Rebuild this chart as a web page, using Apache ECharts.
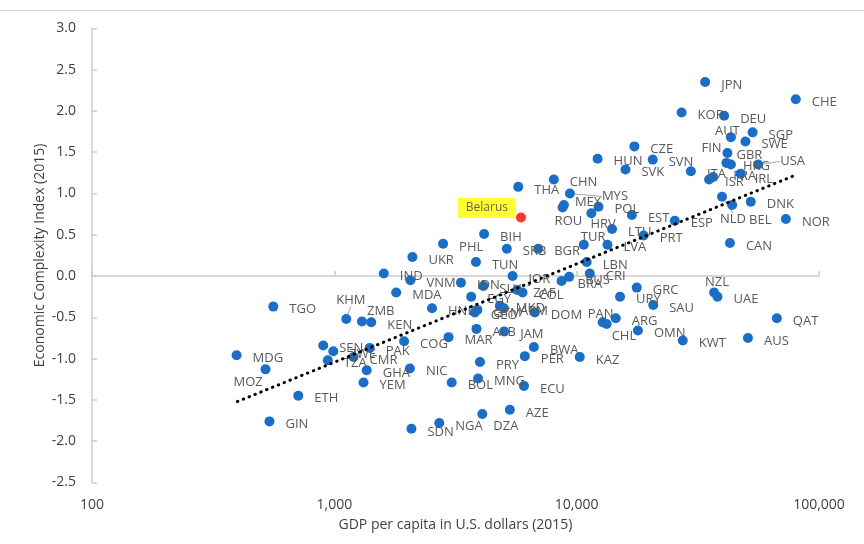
<!DOCTYPE html>
<html>
<head>
<meta charset="utf-8">
<script src="https://cdn.jsdelivr.net/npm/echarts@6/dist/echarts.min.js"></script>
<style>
  html, body { margin: 0; padding: 0; background: #ffffff; }
  #chart { width: 864px; height: 544px; }
</style>
</head>
<body>
<div id="chart"></div>
<script>
// ---- Data ----
const codes = ['JPN','CHE','KOR','DEU','SGP','AUT','SWE','FIN','GBR','HKG','USA','ITA','FRA','ISR','IRL','NLD','BEL','DNK','NOR','CAN','ESP','CZE','HUN','SVK','SVN','EST','PRT','LTU','LVA','POL','HRV','TUR','MYS','MEX','ROU','CHN','THA','BGR','SRB','BIH','PHL','UKR','TUN','IND','VNM','IDN','SLV','JOR','ZAF','COL','EGY','MDA','HND','GEO','GTM','MKD','ARM','DOM','LBN','BRA','RUS','CRI','GRC','URY','SAU','PAN','CHL','ARG','OMN','NZL','UAE','QAT','AUS','KWT','KAZ','BWA','PER','JAM','ALB','MAR','PRY','MNG','BOL','ECU','AZE','DZA','NGA','SDN','NIC','COG','PAK','KEN','ZMB','KHM','SEN','ZWE','TZA','CMR','GHA','YEM','ETH','GIN','MOZ','MDG','TGO'];
const gdpPerCapita = [33900,80200,27100,40600,53200,43300,49700,41900,41500,43300,56100,29600,36600,35200,47500,39800,43800,52300,73000,42900,25400,17300,12200,15900,20600,16900,18900,14000,13400,12300,11500,10700,9380,8860,8750,8050,5740,6940,5150,4150,2810,2100,3840,1600,2060,3330,4120,5440,5680,5980,3670,1800,2530,3800,3890,4820,5010,6720,11000,8660,9310,11330,17700,15100,20700,12800,13300,14500,17900,36900,38100,67000,50900,27400,10300,6660,6110,5020,3860,2960,3990,3920,3050,6060,5300,4080,2710,2080,2050,1940,1400,1420,1300,1120,900,990,940,1200,1360,1320,710,540,520,395,560];
const eci = [2.35,2.14,1.98,1.94,1.74,1.68,1.63,1.49,1.37,1.35,1.35,1.27,1.20,1.17,1.24,0.96,0.86,0.90,0.69,0.40,0.67,1.57,1.42,1.29,1.41,0.74,0.49,0.57,0.38,0.84,0.76,0.38,1.00,0.86,0.83,1.17,1.08,0.33,0.33,0.51,0.39,0.23,0.17,0.03,-0.05,-0.08,-0.12,0.00,-0.17,-0.20,-0.25,-0.20,-0.39,-0.44,-0.41,-0.36,-0.39,-0.44,0.17,-0.06,-0.01,0.03,-0.14,-0.25,-0.35,-0.56,-0.58,-0.51,-0.66,-0.20,-0.25,-0.51,-0.75,-0.78,-0.98,-0.86,-0.97,-0.67,-0.64,-0.74,-1.04,-1.24,-1.29,-1.33,-1.62,-1.67,-1.78,-1.85,-1.12,-0.79,-0.87,-0.56,-0.55,-0.52,-0.84,-0.91,-1.02,-0.98,-1.14,-1.29,-1.45,-1.76,-1.13,-0.96,-0.37];

const highlightName = 'Belarus';
const highlightGdp = 5890;
const highlightEci = 0.71;

// trend line end points
const trendGdp = [398, 81200];
const trendEci = [-1.52, 1.23];

const xTicks = [100, 1000, 10000, 100000];
const yMin = -2.5, yMax = 3.0, yStep = 0.5;

// ---- label placement (style) ----
const defaultLabelOffset = [16, 3];
const labelOffset = {
  MEX: [11, -3], ROU: [-8, 14], HRV: [-1, 11], TUR: [-3, -7], MYS: [32, 3],
  AUT: [-16, -6], FIN: [-26, -5], GBR: [10, -8], HKG: [12, 2], USA: [22, -3],
  IRL: [14, 6], FRA: [20, -1], NLD: [-2, 23], BEL: [17, 15], PAN: [-15, -8],
  CHL: [5, 12], NZL: [-9, -10], DZA: [11, 12], ZMB: [5, -10], KHM: [-10, -19],
  MOZ: [-32, 13]
};
const withLeader = ['MYS', 'USA', 'NLD', 'KHM'];

const font = "'Open Sans', 'Noto Sans', sans-serif";
const grey = '#595959';

const pts = codes.map((c, i) => {
  const item = {
    name: c,
    value: [gdpPerCapita[i], eci[i]],
    label: { offset: labelOffset[c] || defaultLabelOffset }
  };
  if (withLeader.indexOf(c) >= 0) {
    item.labelLine = { show: true, lineStyle: { color: '#a6a6a6', width: 1 } };
  }
  return item;
});

const chart = echarts.init(document.getElementById('chart'), null, { renderer: 'canvas' });
chart.setOption({
  animation: false,
  backgroundColor: '#ffffff',
  grid: { left: 92, right: 45, top: 28.3, bottom: 61.5, containLabel: false },
  graphic: [{
    type: 'line', shape: { x1: 0, y1: 10.5, x2: 864, y2: 10.5 },
    style: { stroke: '#d9d9d9', lineWidth: 1 }
  }],
  xAxis: {
    type: 'log', logBase: 10, min: xTicks[0], max: xTicks[xTicks.length - 1],
    name: 'GDP per capita in U.S. dollars (2015)',
    nameLocation: 'middle', nameGap: 36, nameMoveOverlap: false,
    nameTextStyle: { color: '#404040', fontSize: 14, fontFamily: font },
    axisLine: { show: true, lineStyle: { color: '#cccccc', width: 1.5 } },
    axisTick: { show: true, inside: true, length: 5, lineStyle: { color: '#cccccc', width: 1.5 } },
    axisLabel: {
      color: '#404040', fontSize: 14, fontFamily: font, margin: 16,
      formatter: v => Math.round(v).toLocaleString('en-US')
    },
    splitLine: { show: false }
  },
  yAxis: {
    type: 'value', min: yMin, max: yMax, interval: yStep,
    name: 'Economic Complexity Index (2015)',
    nameLocation: 'middle', nameGap: 45, nameRotate: 90, nameMoveOverlap: false,
    nameTextStyle: { color: '#404040', fontSize: 14, fontFamily: font },
    axisLine: { show: true, lineStyle: { color: '#cccccc', width: 1.5 } },
    axisTick: { show: true, inside: true, length: 5, lineStyle: { color: '#cccccc', width: 1.5 } },
    axisLabel: {
      color: '#404040', fontSize: 14, fontFamily: font, margin: 16,
      formatter: v => v.toFixed(1)
    },
    splitLine: { show: false }
  },
  series: [
    {
      type: 'scatter',
      symbolSize: 10,
      itemStyle: { color: '#1a6ec8', opacity: 1 },
      data: pts,
      z: 2,
      label: {
        show: true, position: 'inside', align: 'left', verticalAlign: 'middle',
        formatter: p => p.name, color: grey, fontSize: 13, fontFamily: font
      },
      labelLine: { show: false },
      emphasis: { disabled: true }
    },
    {
      type: 'line',
      data: trendGdp.map((g, i) => [g, trendEci[i]]),
      symbol: 'none',
      lineStyle: { color: '#000000', width: 3, type: [0.5, 5.8], cap: 'round' },
      z: 3,
      silent: true
    },
    {
      type: 'scatter',
      symbolSize: 10,
      itemStyle: { color: '#ff0000' },
      data: [{ name: highlightName, value: [highlightGdp, highlightEci] }],
      z: 4,
      label: {
        show: true, position: 'inside', align: 'right', verticalAlign: 'middle',
        offset: [-5, -9.5],
        formatter: p => p.name,
        color: '#404040', fontSize: 12, fontFamily: font,
        backgroundColor: '#ffff00', padding: [4, 8, 4, 8]
      },
      emphasis: { disabled: true }
    }
  ]
});
</script>
</body>
</html>
